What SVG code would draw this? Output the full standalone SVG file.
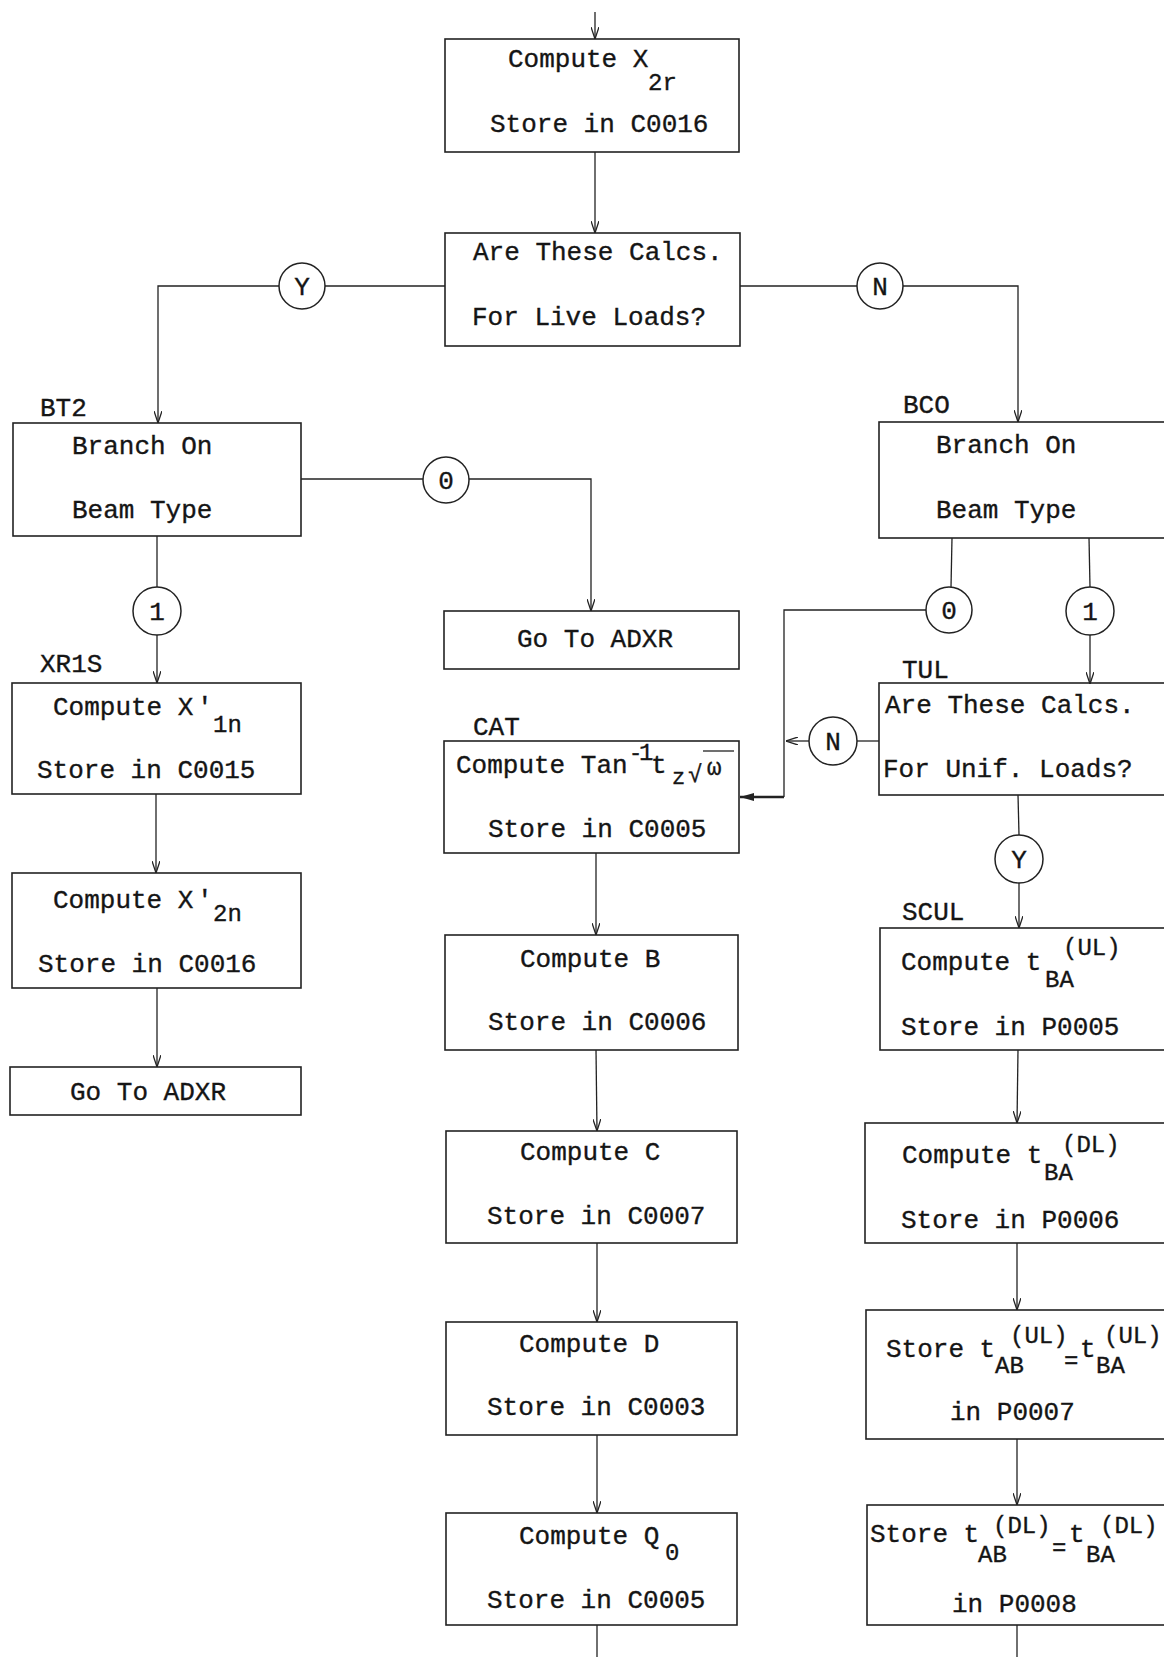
<svg xmlns="http://www.w3.org/2000/svg" width="1164" height="1657" viewBox="0 0 1164 1657">
<defs>
<style>
.box{fill:none;stroke:#222;stroke-width:1.6}
.ln{fill:none;stroke:#222;stroke-width:1.3}
.cir{fill:#fff;stroke:#222;stroke-width:1.5}
text{font-family:"Liberation Mono","Courier New",monospace;font-size:26px;fill:#151515;stroke:#151515;stroke-width:0.35}
.sub{font-size:24px}
.sm{font-size:22px}
.c{text-anchor:middle}
</style>
<marker id="arr" viewBox="0 0 12 8" refX="12" refY="4" markerWidth="12" markerHeight="8" markerUnits="userSpaceOnUse" orient="auto">
<path d="M0,0 L12,4 L0,8" fill="none" stroke="#222" stroke-width="1.3"/>
</marker>
<marker id="arrf" viewBox="0 0 14 8" refX="14" refY="4" markerWidth="14" markerHeight="8" markerUnits="userSpaceOnUse" orient="auto">
<path d="M0,0 L14,4 L0,8 z" fill="#222"/>
</marker>
</defs>
<rect x="0" y="0" width="1164" height="1657" fill="#fff"/>

<g id="connectors">
<path class="ln" d="M595,12 L595,39" marker-end="url(#arr)"/>
<path class="ln" d="M595,152 L595,233" marker-end="url(#arr)"/>
<path class="ln" d="M445,286 L325,286"/>
<path class="ln" d="M279,286 L158,286 L158,423" marker-end="url(#arr)"/>
<path class="ln" d="M740,286 L857,286"/>
<path class="ln" d="M903,286 L1018,286 L1018,422" marker-end="url(#arr)"/>
<path class="ln" d="M301,479 L423,479"/>
<path class="ln" d="M469,479 L591,479 L591,611" marker-end="url(#arr)"/>
<path class="ln" d="M157,536 L157,587"/>
<path class="ln" d="M157,635 L157,683" marker-end="url(#arr)"/>
<path class="ln" d="M156,794 L156,873" marker-end="url(#arr)"/>
<path class="ln" d="M157,988 L157,1067" marker-end="url(#arr)"/>
<path class="ln" d="M952,538 L951,587"/>
<path class="ln" d="M926,610 L784,610 L784,797"/>
<path class="ln" style="stroke-width:2.4" d="M784,797 L740,797" marker-end="url(#arrf)"/>
<path class="ln" d="M1089,538 L1090,587"/>
<path class="ln" d="M1090,635 L1090,684" marker-end="url(#arr)"/>
<path class="ln" d="M879,741 L857,741"/>
<path class="ln" d="M809,741 L786,741" marker-end="url(#arr)"/>
<path class="ln" d="M1018,795 L1019,835"/>
<path class="ln" d="M1019,883 L1019,928" marker-end="url(#arr)"/>
<path class="ln" d="M1018,1050 L1017,1123" marker-end="url(#arr)"/>
<path class="ln" d="M1017,1243 L1017,1310" marker-end="url(#arr)"/>
<path class="ln" d="M1017,1439 L1017,1505" marker-end="url(#arr)"/>
<path class="ln" d="M1017,1625 L1017,1657"/>
<path class="ln" d="M596,853 L596,935" marker-end="url(#arr)"/>
<path class="ln" d="M596,1050 L597,1131" marker-end="url(#arr)"/>
<path class="ln" d="M597,1243 L597,1322" marker-end="url(#arr)"/>
<path class="ln" d="M597,1435 L597,1513" marker-end="url(#arr)"/>
<path class="ln" d="M597,1625 L597,1657"/>
</g>

<g id="compute-x2r">
<rect class="box" x="445" y="39" width="294" height="113"/>
<text x="508" y="67">Compute X</text>
<text class="sub" x="648" y="90">2r</text>
<text x="490" y="132">Store in C0016</text>
</g>

<g id="live-loads">
<rect class="box" x="445" y="233" width="295" height="113"/>
<text x="473" y="260">Are These Calcs.</text>
<text x="472" y="325">For Live Loads?</text>
</g>

<g id="c-y1"><circle class="cir" cx="302" cy="286" r="23"/><text class="c" x="302" y="295">Y</text></g>
<g id="c-n1"><circle class="cir" cx="880" cy="286" r="23"/><text class="c" x="880" y="295">N</text></g>

<g id="bt2">
<text x="40" y="416">BT2</text>
<rect class="box" x="13" y="423" width="288" height="113"/>
<text x="72" y="454">Branch On</text>
<text x="72" y="518">Beam Type</text>
</g>

<g id="c-0a"><circle class="cir" cx="446" cy="480" r="23"/><text class="c" x="446" y="489">0</text></g>
<g id="c-1a"><circle class="cir" cx="157" cy="611" r="24"/><text class="c" x="157" y="620">1</text></g>

<g id="goto-mid">
<rect class="box" x="444" y="611" width="295" height="58"/>
<text x="517" y="647">Go To ADXR</text>
</g>

<g id="xr1s">
<text x="40" y="672">XR1S</text>
<rect class="box" x="12" y="683" width="289" height="111"/>
<text x="53" y="715">Compute X</text>
<text x="197" y="715">'</text>
<text class="sub" x="213" y="732">1n</text>
<text x="37" y="778">Store in C0015</text>
</g>

<g id="compute-x2n">
<rect class="box" x="12" y="873" width="289" height="115"/>
<text x="53" y="908">Compute X</text>
<text x="197" y="908">'</text>
<text class="sub" x="213" y="921">2n</text>
<text x="38" y="972">Store in C0016</text>
</g>

<g id="goto-left">
<rect class="box" x="10" y="1067" width="291" height="48"/>
<text x="70" y="1100">Go To ADXR</text>
</g>

<g id="bco">
<text x="903" y="413">BCO</text>
<rect class="box" x="879" y="422" width="295" height="116"/>
<text x="936" y="453">Branch On</text>
<text x="936" y="518">Beam Type</text>
</g>

<g id="c-0b"><circle class="cir" cx="949" cy="610" r="23"/><text class="c" x="949" y="619">0</text></g>
<g id="c-1b"><circle class="cir" cx="1090" cy="611" r="24"/><text class="c" x="1090" y="620">1</text></g>

<g id="tul">
<text x="902" y="678">TUL</text>
<rect class="box" x="879" y="683" width="295" height="112"/>
<text x="885" y="713">Are These Calcs.</text>
<text x="883" y="777">For Unif. Loads?</text>
</g>

<g id="c-n2"><circle class="cir" cx="833" cy="741" r="24"/><text class="c" x="833" y="750">N</text></g>
<g id="c-y2"><circle class="cir" cx="1019" cy="859" r="24"/><text class="c" x="1019" y="868">Y</text></g>

<g id="cat">
<text x="473" y="735">CAT</text>
<rect class="box" x="444" y="741" width="295" height="112"/>
<text x="456" y="773">Compute Tan</text>
<text class="sm" x="629" y="760">-</text>
<text class="sub" x="639" y="760">1</text>
<text x="651" y="773">t</text>
<text class="sm" x="672" y="784">z</text>
<text class="sub" x="688" y="782">√</text>
<text class="sub" x="707" y="775">ω</text>
<path class="ln" d="M703,751 L734,751"/>
<text x="488" y="837">Store in C0005</text>
</g>

<g id="compute-b">
<rect class="box" x="445" y="935" width="293" height="115"/>
<text x="520" y="967">Compute B</text>
<text x="488" y="1030">Store in C0006</text>
</g>

<g id="compute-c">
<rect class="box" x="446" y="1131" width="291" height="112"/>
<text x="520" y="1160">Compute C</text>
<text x="487" y="1224">Store in C0007</text>
</g>

<g id="compute-d">
<rect class="box" x="446" y="1322" width="291" height="113"/>
<text x="519" y="1352">Compute D</text>
<text x="487" y="1415">Store in C0003</text>
</g>

<g id="compute-q0">
<rect class="box" x="446" y="1513" width="291" height="112"/>
<text x="519" y="1544">Compute Q</text>
<text class="sub" x="665" y="1560">0</text>
<text x="487" y="1608">Store in C0005</text>
</g>

<g id="scul">
<text x="902" y="920">SCUL</text>
<rect class="box" x="880" y="928" width="294" height="122"/>
<text x="901" y="970">Compute t</text>
<text class="sub" x="1045" y="987">BA</text>
<text class="sub" x="1063" y="955">(UL)</text>
<text x="901" y="1035">Store in P0005</text>
</g>

<g id="compute-tba-dl">
<rect class="box" x="865" y="1123" width="309" height="120"/>
<text x="902" y="1163">Compute t</text>
<text class="sub" x="1044" y="1180">BA</text>
<text class="sub" x="1062" y="1152">(DL)</text>
<text x="901" y="1228">Store in P0006</text>
</g>

<g id="store-tab-ul">
<rect class="box" x="866" y="1310" width="308" height="129"/>
<text x="886" y="1357">Store t</text>
<text class="sub" x="995" y="1373">AB</text>
<text class="sub" x="1010" y="1343">(UL)</text>
<text class="sub" x="1064" y="1368">=</text>
<text x="1080" y="1357">t</text>
<text class="sub" x="1096" y="1373">BA</text>
<text class="sub" x="1104" y="1343">(UL)</text>
<text x="950" y="1420">in P0007</text>
</g>

<g id="store-tab-dl">
<rect class="box" x="867" y="1505" width="307" height="120"/>
<text x="870" y="1542">Store t</text>
<text class="sub" x="978" y="1562">AB</text>
<text class="sub" x="993" y="1533">(DL)</text>
<text class="sub" x="1052" y="1555">=</text>
<text x="1069" y="1542">t</text>
<text class="sub" x="1086" y="1562">BA</text>
<text class="sub" x="1100" y="1533">(DL)</text>
<text x="952" y="1612">in P0008</text>
</g>
</svg>
